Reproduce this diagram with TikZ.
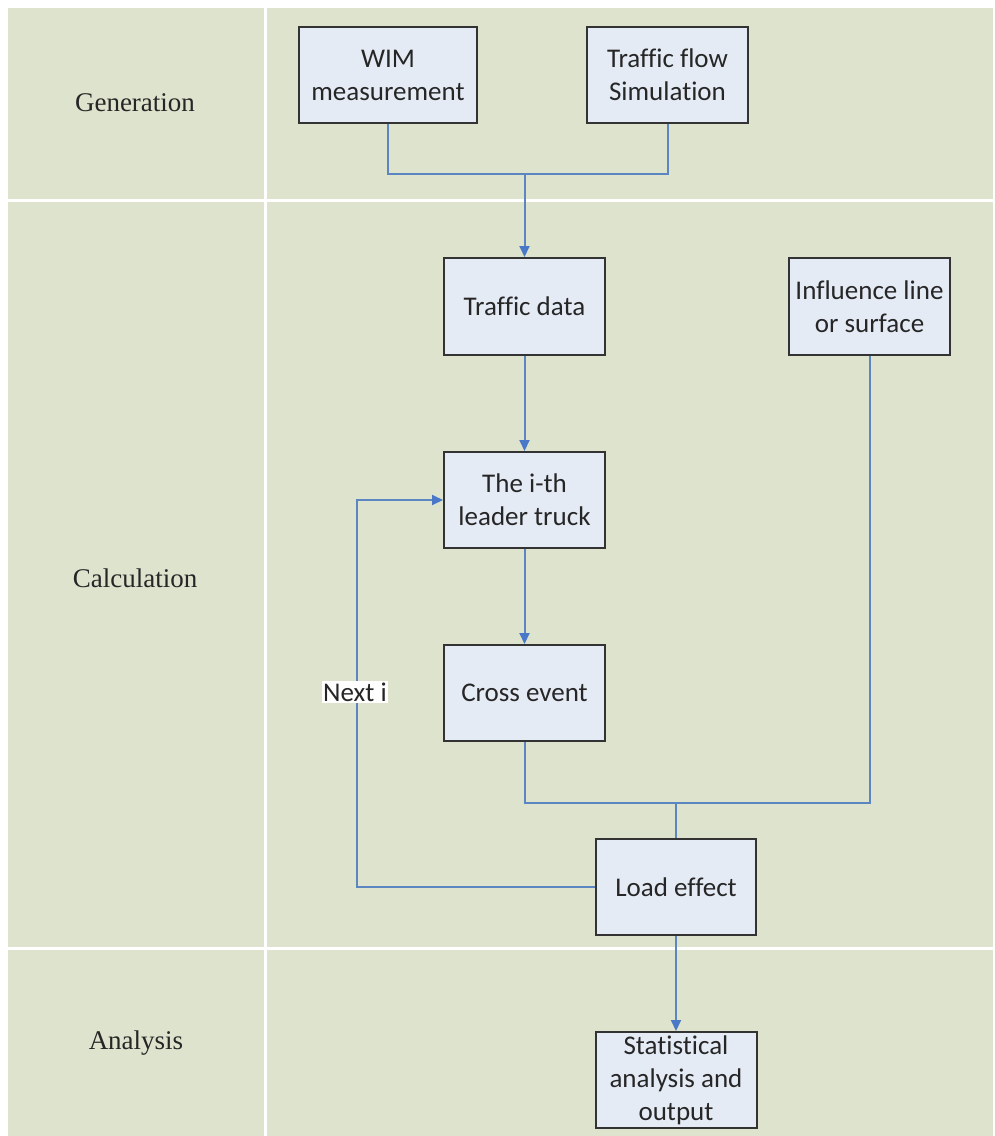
\documentclass[tikz,border=0pt]{standalone}
\usepackage{fontspec}
\setmainfont{Liberation Serif}
\newfontfamily\boxfont[Ligatures=NoCommon]{Carlito}
\usetikzlibrary{arrows.meta}
\definecolor{bgc}{HTML}{DDE3CD}
\definecolor{boxfill}{HTML}{E5EBF5}
\definecolor{boxline}{HTML}{333333}
\definecolor{conn}{HTML}{5B86C2}
\definecolor{tipc}{HTML}{4A78C8}
\tikzset{
  stepbox/.style={draw=boxline, line width=2pt, fill=boxfill, rectangle, inner sep=0pt,
    minimum width=161pt, minimum height=96pt, align=center, text=black!85,
    font=\boxfont\fontsize{27}{33}\selectfont},
  lanelabel/.style={font=\fontsize{27}{32}\selectfont, text=black!85},
  link/.style={draw=conn, line width=2pt},
  arrowlink/.style={link, -{Triangle[length=11pt,width=10pt,color=tipc]}},
  gridline/.style={draw=white, line width=3pt}
}
\begin{document}
\begin{tikzpicture}[x=1pt,y=-1pt]
\useasboundingbox (0,0) rectangle (994,1136);
\fill[white] (0,0) rectangle (994,1136);
\fill[bgc] (8,8) rectangle (993,1136);
\draw[gridline] (265,8) -- (265,1136);
\draw[gridline] (8,200) -- (993,200);
\draw[gridline] (8,948) -- (993,948);

\node[lanelabel] (lgen) at (135,103) {Generation};
\node[lanelabel] (lcalc) at (135,578) {Calculation};
\node[lanelabel] (lana) at (136,1043) {Analysis};

\node[stepbox, minimum width=178pt] (wim) at (388,75) {WIM\\measurement};
\node[stepbox] (tfs) at (667.5,75) {Traffic flow\\Simulation};
\node[stepbox, minimum height=97pt] (td) at (524.5,306.5) {Traffic data};
\node[stepbox, minimum height=97pt] (inf) at (869.5,306.5) {Influence line\\or surface};
\node[stepbox] (lead) at (524.5,500) {The i-th\\leader truck};
\node[stepbox] (cross) at (524.5,693) {Cross event};
\node[stepbox, minimum width=160pt] (load) at (676,887) {Load effect};
\node[stepbox] (stat) at (676,1080) {Statistical\\analysis and\\output};

\coordinate (j1) at (524.5,174);
\coordinate (j2) at (676,803);
\coordinate (lp1) at (357,887);
\coordinate (lp2) at (357,500);

\draw[link] (wim.south) -- (wim.south |- j1) -- (tfs.south |- j1) -- (tfs.south);
\draw[arrowlink] (j1) -- (td.north);
\draw[arrowlink] (td.south) -- (lead.north);
\draw[arrowlink] (lead.south) -- (cross.north);
\draw[link] (cross.south) -- (cross.south |- j2) -- (inf.south |- j2) -- (inf.south);
\draw[link] (j2) -- (load.north);
\draw[arrowlink] (load.west) -- (lp1) -- (lp2) -- (lead.west);
\draw[arrowlink] (load.south) -- (stat.north);

\node[fill=white, inner xsep=1.5pt, inner ysep=2pt, text=black!85,
  font=\boxfont\fontsize{27}{33}\selectfont] (nexti) at (355,692) {Next i};
\end{tikzpicture}
\end{document}
